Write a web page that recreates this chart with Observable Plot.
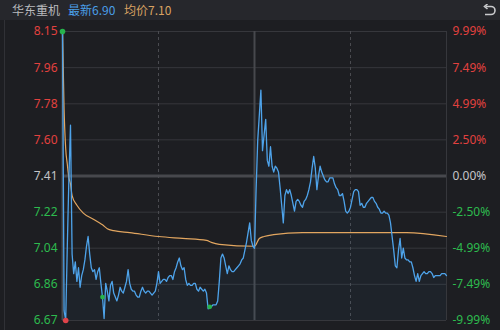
<!DOCTYPE html>
<html><head><meta charset="utf-8">
<script src="https://cdn.jsdelivr.net/npm/d3@7"></script>
<script src="https://cdn.jsdelivr.net/npm/@observablehq/plot@0.6"></script>
<style>
html,body{margin:0;padding:0;background:#1d1e22;width:500px;height:330px;overflow:hidden;}
#hdr{position:relative;height:20px;background:#26272c;font-family:"Noto Sans CJK SC","Noto Sans",sans-serif;font-size:12px;line-height:20px;white-space:nowrap;}
#hdr span{position:absolute;top:0;}
#edge{position:absolute;left:4px;top:20px;width:1px;height:310px;background:#303136;}
#chart{position:relative;}
#chart svg{display:block;}
</style></head>
<body>
<div id="hdr">
  <span style="left:12px;color:#b9babd">华东重机</span>
  <span style="left:68px;color:#4a9fe8">最新6.90</span>
  <span style="left:124px;color:#d9a262">均价7.10</span>
  <svg style="position:absolute;left:482px;top:4px" width="14" height="13" viewBox="0 0 14 13">
    <path d="M4 2.5 H9 A4 4 0 0 1 9 10.5 H3" fill="none" stroke="#c9cacd" stroke-width="1.6"/>
    <path d="M5.5 0 L2.5 2.5 L5.5 5" fill="none" stroke="#c9cacd" stroke-width="1.6"/>
  </svg>
</div>
<div id="edge"></div>
<div id="chart"></div>
<script>
const prevClose = 7.41;
const pctTicks = [9.99, 7.49, 4.99, 2.50, 0, -2.50, -4.99, -7.49, -9.99];
const priceLabels = ["8.15","7.96","7.78","7.60","7.41","7.22","7.04","6.86","6.67"];
const pctLabels = ["9.99%","7.49%","4.99%","2.50%","0.00%","-2.50%","-4.99%","-7.49%","-9.99%"];

// minute-by-minute last price (0 = 9:30, 120 = 11:30/13:00, 240 = 15:00)
const prices = [
8.15,6.72,6.67,7.05,7.40,7.67,7.01,6.91,6.97,6.87,
6.94,6.84,6.90,6.93,6.98,7.05,7.10,7.01,6.94,6.92,
6.93,6.88,6.92,6.94,6.86,6.79,6.68,6.86,6.82,6.77,
6.85,6.87,6.81,6.79,6.77,6.80,6.84,6.82,6.81,6.84,
6.87,6.93,6.86,6.83,6.82,6.82,6.80,6.79,6.79,6.82,
6.84,6.82,6.81,6.82,6.82,6.81,6.80,6.81,6.82,6.86,
6.92,6.86,6.87,6.88,6.88,6.87,6.89,6.90,6.90,6.88,
6.92,6.94,6.97,6.99,6.95,6.93,6.94,6.88,6.85,6.86,
6.85,6.85,6.86,6.86,6.83,6.82,6.84,6.83,6.82,6.83,
6.81,6.73,6.74,6.74,6.75,6.75,6.75,6.77,6.87,6.99,
7.01,6.99,6.95,6.91,6.95,6.93,6.92,6.92,6.93,6.94,
6.95,6.96,6.98,6.99,7.03,7.07,7.12,7.17,7.08,7.05,
7.04,7.34,7.59,7.72,7.85,7.54,7.62,7.70,7.49,7.46,
7.56,7.46,7.43,7.46,7.45,7.43,7.35,7.26,7.17,7.31,
7.34,7.32,7.34,7.31,7.27,7.23,7.28,7.29,7.28,7.26,
7.25,7.28,7.29,7.31,7.34,7.38,7.45,7.51,7.45,7.34,
7.41,7.46,7.43,7.41,7.39,7.38,7.38,7.40,7.40,7.40,
7.37,7.35,7.34,7.31,7.31,7.32,7.28,7.23,7.22,7.23,
7.25,7.29,7.33,7.34,7.34,7.33,7.26,7.27,7.25,7.25,
7.27,7.28,7.29,7.30,7.30,7.28,7.27,7.25,7.24,7.22,
7.22,7.23,7.22,7.22,7.21,7.17,7.10,7.03,6.95,6.94,
7.03,7.09,6.99,7.04,6.99,6.98,6.98,6.97,6.97,6.94,
6.90,6.87,6.91,6.87,6.90,6.91,6.92,6.91,6.91,6.92,
6.92,6.91,6.89,6.90,6.90,6.90,6.90,6.91,6.91,6.91,
6.90
];

// average price line
const avgMinutes = [0,1,2,3,4,5,6,9,13,19,23,25,28,32,42,60,75,90,93,98,120,123,126,132,150,180,200,215,240];
const avgPrices  = [8.15,7.75,7.55,7.47,7.40,7.37,7.31,7.26,7.22,7.19,7.17,7.16,7.14,7.13,7.12,7.10,7.09,7.08,7.07,7.06,7.05,7.09,7.10,7.11,7.12,7.12,7.12,7.12,7.10];

// markers
const markMinutes = [0, 2, 25, 92];
const markPrices  = [8.15, 6.67, 6.79, 6.74];
const markColors  = ["#27b34c", "#e0434a", "#27b34c", "#27b34c"];
const markSizes   = [2.8, 2.8, 2.4, 2.4];

const priceData = prices.map((p, i) => ({m: i, p}));
const avgData = avgMinutes.map((m, i) => ({m, p: avgPrices[i]}));
const markData = markMinutes.map((m, i) => ({m, p: markPrices[i], c: markColors[i], r: markSizes[i]}));
const yMin = prevClose * (1 - 0.0999), yMax = prevClose * (1 + 0.0999);
const ticks = pctTicks.map((pct, i) => ({
  y: prevClose * (1 + pct / 100), pct, left: priceLabels[i], right: pctLabels[i],
  c: pct > 0 ? "#e2413f" : pct < 0 ? "#2dbb4e" : "#c4c5c8"
}));

const chart = Plot.plot({
  width: 500, height: 310,
  marginTop: 11, marginBottom: 10, marginLeft: 62, marginRight: 54,
  style: {background: "transparent", fontFamily: "'Noto Sans','Noto Sans CJK SC',sans-serif"},
  x: {domain: [0, 240], axis: null},
  y: {domain: [yMin, yMax], axis: null},
  r: {type: "identity"},
  marks: [
    Plot.ruleY(ticks.filter(t => t.pct !== 0), {y: "y", stroke: "#36373c", strokeWidth: 1}),
    Plot.ruleY([prevClose], {stroke: "#47484d", strokeWidth: 3}),
    Plot.ruleX([0, 120], {stroke: "#47484d", strokeWidth: 2}),
    Plot.ruleX([240], {stroke: "#36373c", strokeWidth: 1}),
    Plot.ruleX([60, 180], {stroke: "#4a4b50", strokeWidth: 1, strokeDasharray: "3,3"}),
    Plot.areaY(priceData, {x: "m", y1: yMin, y2: "p", fill: "#4a9fe8", fillOpacity: 0.045, curve: "linear"}),
    Plot.line(avgData, {x: "m", y: "p", stroke: "#e2a660", strokeWidth: 1.2, curve: "monotone-x"}),
    Plot.line(priceData, {x: "m", y: "p", stroke: "#4ea3ea", strokeWidth: 1.3}),
    Plot.dot(markData, {x: "m", y: "p", fill: "c", r: "r", stroke: null}),
    Plot.text(ticks, {x: 0, y: "y", text: "left", fill: "c", textAnchor: "end", dx: -5, fontSize: 12}),
    Plot.text(ticks, {x: 240, y: "y", text: "right", fill: "c", textAnchor: "start", dx: 6, fontSize: 12})
  ]
});
document.getElementById("chart").appendChild(chart);
</script>
</body></html>
